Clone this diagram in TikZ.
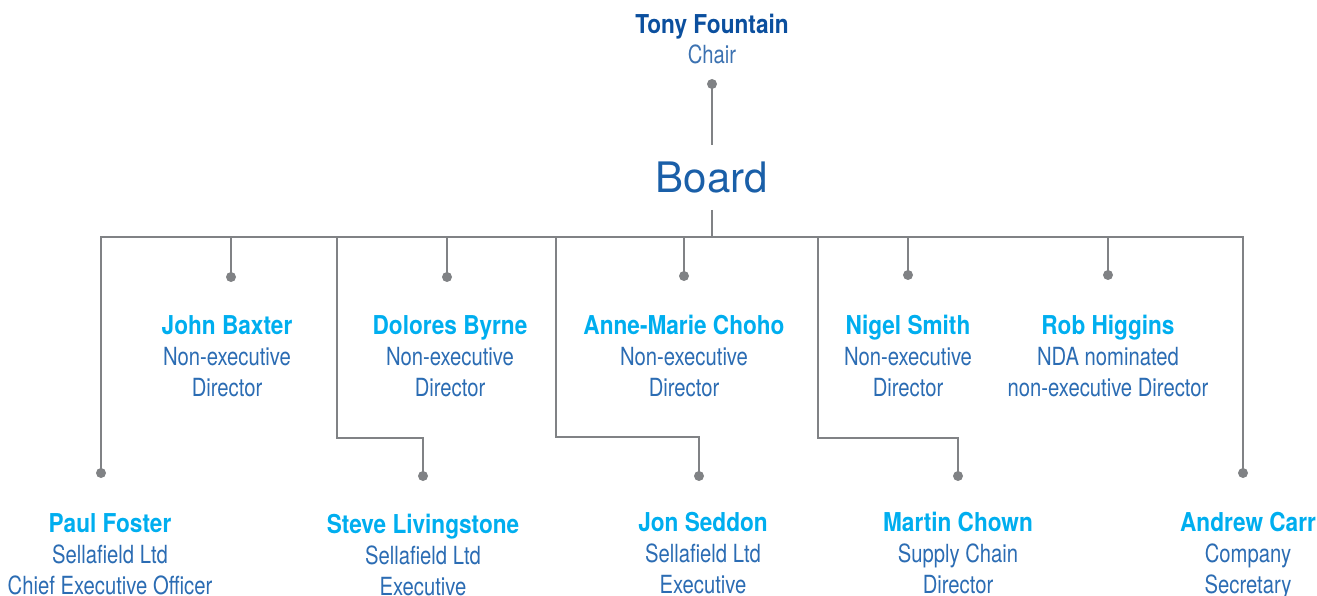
\documentclass[tikz,border=0pt]{standalone}
\usepackage{fontspec}
\setmainfont{TeX Gyre Heros}
\newfontfamily\namefont[FakeStretch=0.87]{TeX Gyre Heros}
\newfontfamily\rolefont[FakeStretch=0.81]{TeX Gyre Heros}
\usepackage{tikz}
\usetikzlibrary{calc}
\definecolor{chairblue}{HTML}{0B4F9E}
\definecolor{boardblue}{HTML}{1A5FA8}
\definecolor{namecyan}{HTML}{00AEEF}
\definecolor{roleblue}{HTML}{2B6CB3}
\definecolor{linegrey}{HTML}{808285}

% one board member: name and two lines of role
\newcommand{\member}[6]{%
  \node[who] (#1) at (#2,#3) {#4};
  \node[role] (#1-a) at (#2,#3+31) {#5};
  \node[role] (#1-b) at (#2,#3+62) {#6};}

\begin{document}
\begin{tikzpicture}[x=1pt, y=-1pt,
    who/.style={font=\namefont\bfseries\fontsize{26}{31}\selectfont, text=namecyan, inner sep=0pt, anchor=base},
    role/.style={font=\rolefont\fontsize{25}{31}\selectfont, text=roleblue, inner sep=0pt, anchor=base},
    link/.style={draw=linegrey, line width=2.8pt},
    dot/.style={circle, fill=linegrey, inner sep=0pt, minimum size=10pt} ]

	\useasboundingbox (0,0) rectangle (1317,596);

	% chair and board
	\node[who, text=chairblue] (chair) at (712,34) {Tony Fountain};
	\node[role, text=chairblue!80!white] (chair-a) at (712,64) {Chair};
	\node[inner sep=0pt, anchor=base, text=boardblue, font=\fontsize{42}{48}\selectfont] (board) at (712,193) {Board};

	% members
	\member{baxter}{227}{334}{John Baxter}{Non-executive}{Director}
	\member{byrne}{450}{334}{Dolores Byrne}{Non-executive}{Director}
	\member{choho}{684}{334}{Anne-Marie Choho}{Non-executive}{Director}
	\member{smith}{908}{334}{Nigel Smith}{Non-executive}{Director}
	\member{higgins}{1108}{334}{Rob Higgins}{NDA nominated}{non-executive Director}
	\member{foster}{110}{532}{Paul Foster}{Sellafield Ltd}{Chief Executive Officer}
	\member{livingstone}{423}{533}{Steve Livingstone}{Sellafield Ltd}{Executive}
	\member{seddon}{703}{531}{Jon Seddon}{Sellafield Ltd}{Executive}
	\member{chown}{958}{531}{Martin Chown}{Supply Chain}{Director}
	\member{carr}{1248}{531}{Andrew Carr}{Company}{Secretary}

	% dots
	\node[dot] (chairdot) at (712,84) {};
	\node[dot] (baxter-dot) at (231,277) {};
	\node[dot] (byrne-dot) at (447,277) {};
	\node[dot] (choho-dot) at (684,276) {};
	\node[dot] (smith-dot) at (908,275) {};
	\node[dot] (higgins-dot) at (1108,275) {};
	\node[dot] (foster-dot) at (101,473) {};
	\node[dot] (livingstone-dot) at (423,476) {};
	\node[dot] (seddon-dot) at (699,476) {};
	\node[dot] (chown-dot) at (958,476) {};
	\node[dot] (carr-dot) at (1243,473) {};

	\coordinate (boardtop) at (712,145);
	\coordinate (boardfoot) at (712,210);
	\coordinate (hub) at (712,237);
	\coordinate (busL) at (101,237);
	\coordinate (busR) at (1243,237);
	\coordinate (livingstone-top) at (337,237);
	\coordinate (seddon-top) at (556,237);
	\coordinate (chown-top) at (818,237);

	% lines
	\draw[link] (chairdot.center) -- (boardtop);
	\draw[link] (boardfoot) -- (hub);
	\draw[link] (foster-dot.center) -- (busL) -- (busR) -- (carr-dot.center);
	\foreach \n in {baxter,byrne,choho,smith,higgins}
		\draw[link] (\n-dot.center |- hub) -- (\n-dot.center);
	\draw[link] (livingstone-top) -- ++(0,201) -| (livingstone-dot.center);
	\draw[link] (seddon-top) -- ++(0,200) -| (seddon-dot.center);
	\draw[link] (chown-top) -- ++(0,201) -| (chown-dot.center);
\end{tikzpicture}
\end{document}
